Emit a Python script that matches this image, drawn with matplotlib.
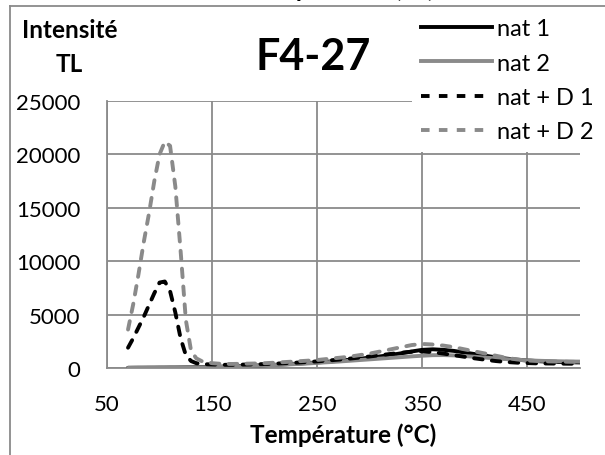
import numpy as np
import matplotlib.pyplot as plt
from matplotlib.lines import Line2D

# temperature (°C) and TL intensity
temperature = [70, 75, 80, 85, 90, 95, 100, 105, 110, 115, 120, 125, 130, 135, 140, 145, 150,
               160, 170, 180, 190, 200, 210, 220, 230, 240, 250, 260, 270, 280, 290, 300,
               310, 320, 330, 340, 350, 360, 370, 380, 390, 400, 410, 420, 430, 440, 450,
               460, 470, 480, 490, 500]

nat_1 = [20, 25, 30, 30, 35, 35, 40, 40, 45, 45, 50, 55, 60, 70, 80, 90, 100,
         130, 160, 190, 220, 260, 300, 350, 400, 460, 520, 590, 670, 760, 860, 970,
         1090, 1220, 1380, 1550, 1700, 1750, 1700, 1600, 1450, 1300, 1150, 1000, 880, 780, 700,
         640, 590, 560, 540, 520]

nat_2 = [10, 15, 15, 20, 20, 25, 25, 30, 30, 35, 35, 40, 45, 50, 60, 70, 80,
         110, 140, 170, 200, 240, 280, 320, 370, 420, 480, 540, 600, 670, 740, 810,
         880, 950, 1020, 1090, 1150, 1200, 1210, 1180, 1120, 1050, 970, 900, 830, 770, 720,
         680, 650, 630, 610, 600]

nat_d1 = [1900, 2800, 3800, 4800, 5900, 7000, 8000, 8100, 7200, 5200, 2800, 1200, 650, 450, 380, 350, 330,
          300, 300, 320, 340, 370, 410, 450, 500, 560, 620, 700, 780, 870, 970, 1080,
          1200, 1320, 1430, 1520, 1550, 1480, 1350, 1200, 1050, 900, 770, 650, 560, 500, 460,
          430, 420, 410, 400, 400]

nat_d2 = [3600, 6000, 8800, 11800, 14500, 17500, 20000, 21200, 20800, 17000, 11000, 4500, 1600, 900, 650, 550, 450,
          380, 380, 400, 420, 450, 500, 560, 620, 680, 750, 850, 950, 1050, 1200, 1350,
          1550, 1750, 1950, 2150, 2250, 2200, 2100, 1950, 1750, 1550, 1350, 1150, 950, 800, 700,
          650, 620, 600, 580, 570]

labels = ['nat 1', 'nat 2', 'nat + D 1', 'nat + D 2']
xticks = [50, 150, 250, 350, 450]
yticks = [0, 5000, 10000, 15000, 20000, 25000]

plt.rcParams['font.family'] = ['Lato', 'DejaVu Sans']
black = '#000000'
grey = '#8a8a8a'
dash = (0, (2.2, 2.4))

fig = plt.figure(figsize=(6.05, 4.56), dpi=100)
ax = fig.add_axes([107 / 605, 87 / 456, 473 / 605, 267 / 456])

lw = 2.8
ax.plot(temperature, nat_1, color=black, lw=lw, solid_capstyle='round', zorder=3)
ax.plot(temperature, nat_2, color=grey, lw=lw, solid_capstyle='round', zorder=3)
ax.plot(temperature, nat_d1, color=black, lw=lw, ls=dash, dash_capstyle='round', zorder=4)
ax.plot(temperature, nat_d2, color=grey, lw=lw, ls=dash, dash_capstyle='round', zorder=4)

ax.set_xlim(50, 500)
ax.set_ylim(0, 25000)
ax.set_xticks(xticks)
ax.set_yticks(yticks)
ax.set_xticklabels([str(v) for v in xticks])
ax.set_yticklabels([str(v) for v in yticks])
ax.tick_params(length=0, labelsize=16)
ax.tick_params(axis='x', pad=19)
ax.tick_params(axis='y', pad=19)
ax.grid(True, color=grey, lw=1.3)
ax.set_axisbelow(True)
for side in ['top', 'right']:
    ax.spines[side].set_visible(False)
for side in ['left', 'bottom']:
    ax.spines[side].set_color(grey)
    ax.spines[side].set_linewidth(1.3)

ax.set_xlabel('Température (°C)', fontsize=17.5, fontweight='bold', labelpad=6)

fig.text(70 / 605, 1 - 31 / 456, 'Intensité', fontsize=17.5, fontweight='bold', ha='center', va='center')
fig.text(69 / 605, 1 - 64 / 456, 'TL', fontsize=17.5, fontweight='bold', ha='center', va='center')
fig.text(313 / 605, 1 - 57 / 456, 'F4-27', fontsize=31, fontweight='bold', ha='center', va='center')

handles = [Line2D([], [], color=black, lw=lw),
           Line2D([], [], color=grey, lw=lw),
           Line2D([], [], color=black, lw=lw, ls=dash),
           Line2D([], [], color=grey, lw=lw, ls=dash)]
# the legend box is opaque white and hides the gridlines behind it
leg = fig.legend(handles, labels, loc='upper left', bbox_to_anchor=(412 / 605, 1 - 10 / 456),
                 frameon=True, facecolor='white', edgecolor='none', framealpha=1, fancybox=False,
                 fontsize=17, handlelength=3.0, handletextpad=0.2,
                 labelspacing=0.56, borderaxespad=0, borderpad=0.4)
leg.set_zorder(10)

# frame pieces of the surrounding sheet (the chart above is cut off)
fig.add_artist(Line2D([10 / 605, 1], [1 - 7 / 456, 1 - 7 / 456], color=grey, lw=1.3))
fig.add_artist(Line2D([10 / 605, 10 / 605], [0, 1 - 7 / 456], color=grey, lw=1.3))
fig.text(341 / 605, 1 + 3 / 456, 'Température (°C)', fontsize=17.5, fontweight='bold',
         ha='center', va='baseline')

fig.savefig('out.png', dpi=100)
